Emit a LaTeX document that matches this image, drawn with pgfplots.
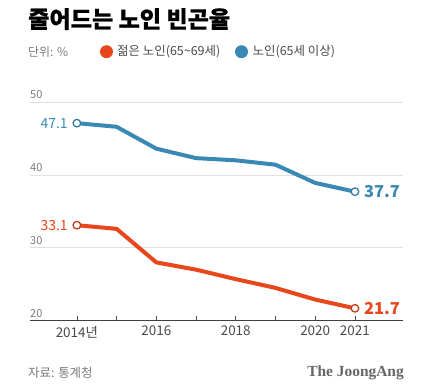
\documentclass[border=0pt]{standalone}
\usepackage{fontspec}
\setmainfont{Noto Sans CJK KR}
\newfontfamily\jaserif{Liberation Serif}
\usepackage{pgfplots}
\pgfplotsset{compat=1.18}
\definecolor{jblue}{HTML}{3A89B5}
\definecolor{jorange}{HTML}{E8471C}
\definecolor{jgray}{HTML}{7A7A7A}
\definecolor{jdark}{HTML}{4A4A4A}
\begin{document}
\begin{tikzpicture}
\path[use as bounding box] (0,0) rectangle (430bp,-385bp);
\node[anchor=north west, inner sep=0, font=\fontsize{23.2}{25}\selectfont\bfseries\addfontfeatures{FakeBold=0.6}, text=black] at (28bp,-8bp) {줄어드는 노인 빈곤율};
\node[anchor=west, inner sep=0, font=\fontsize{12}{13}\selectfont, text=jgray] at (28bp,-52bp) {단위: \%};
\fill[jorange] (106.5bp,-51.7bp) circle (6.5bp);
\node[anchor=west, inner sep=0, font=\fontsize{12.5}{13}\selectfont, text=jdark] at (117bp,-52bp) {젊은 노인(65\textasciitilde 69세)};
\fill[jblue] (241.5bp,-51.7bp) circle (6.5bp);
\node[anchor=west, inner sep=0, font=\fontsize{12.5}{13}\selectfont, text=jdark] at (252.5bp,-52bp) {노인(65세 이상)};
\node[anchor=west, inner sep=0, font=\fontsize{12.5}{13}\selectfont, text=jgray] at (28bp,-373bp) {자료: 통계청};
\node[anchor=east, inner sep=0, font=\jaserif\fontsize{15.5}{16}\selectfont\bfseries, text=black!60] at (404bp,-373bp) {The JoongAng};
\begin{axis}[
  at={(30bp,-320.7bp)}, anchor=south west, scale only axis,
  width=373bp, height=218.7bp,
  xmin=2012.82, xmax=2022.21, ymin=20, ymax=50,
  clip=false,
  axis lines*=left, separate axis lines,
  y axis line style={draw=none},
  x axis line style={draw=black!75, line width=0.9bp},
  ytick={20,30,40,50}, ymajorgrids,
  grid style={draw=black!12, line width=0.7bp},
  ytick style={draw=none},
  xtick={2014,...,2021},
  xticklabels={2014년,,2016,,2018,,2020,2021},
  tick align=inside, major tick length=4.5bp,
  xtick style={draw=jdark, line width=0.6bp},
  /pgf/number format/assume math mode=true,
  yticklabel style={anchor=south west, inner sep=0, xshift=0bp, yshift=3bp, font=\fontsize{11}{12}\selectfont, text=jgray},
  xticklabel style={font=\fontsize{13.5}{14}\selectfont, text=jdark, yshift=-2bp},
]
\addplot[jblue, line width=4bp, line join=round, mark=*, mark indices={1,8}, mark size=3.8bp, mark options={fill=white, draw=jblue!90!black, line width=1.3bp}] coordinates {
(2014,47.1) (2015,46.6) (2016,43.6) (2017,42.3) (2018,42.0) (2019,41.4) (2020,38.9) (2021,37.7)};
\addplot[jorange, line width=4bp, line join=round, mark=*, mark indices={1,8}, mark size=3.8bp, mark options={fill=white, draw=jorange!85!black, line width=1.3bp}] coordinates {
(2014,33.1) (2015,32.6) (2016,28.0) (2017,27.0) (2018,25.7) (2019,24.5) (2020,22.9) (2021,21.7)};
\node[anchor=east, inner sep=0, xshift=-9bp, text=jblue, font=\fontsize{14}{15}\selectfont] at (axis cs:2014,47.1) {47.1};
\node[anchor=east, inner sep=0, xshift=-9bp, text=jorange, font=\fontsize{14}{15}\selectfont] at (axis cs:2014,33.1) {33.1};
\node[anchor=west, inner sep=0, xshift=9bp, text=jblue, font=\fontsize{16.5}{17}\selectfont\bfseries] at (axis cs:2021,37.7) {37.7};
\node[anchor=west, inner sep=0, xshift=9bp, text=jorange, font=\fontsize{16.5}{17}\selectfont\bfseries] at (axis cs:2021,21.7) {21.7};
\end{axis}
\end{tikzpicture}
\end{document}
